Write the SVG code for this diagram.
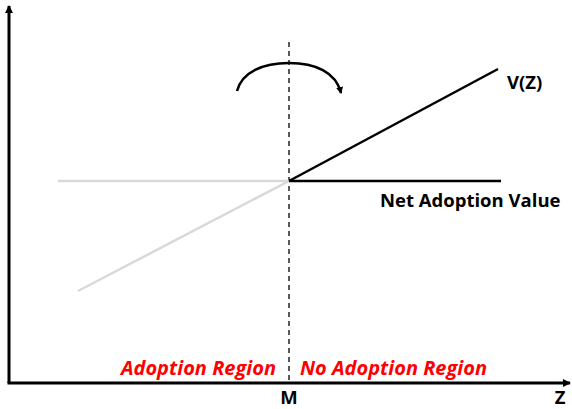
<svg xmlns="http://www.w3.org/2000/svg" width="572" height="409" viewBox="0 0 572 409">
  <defs>
    <marker id="arrowHead" markerWidth="8" markerHeight="8" refX="7" refY="4" orient="auto" markerUnits="userSpaceOnUse">
      <path d="M0,0 L8,4 L0,8 Z" fill="#000"/>
    </marker>
    <marker id="smallHead" markerWidth="8" markerHeight="8" refX="6" refY="4" orient="auto" markerUnits="userSpaceOnUse">
      <path d="M0,0.5 L7,4 L0,7.5 Z" fill="#000"/>
    </marker>
  </defs>
  <style>
    .axis { stroke: #000; stroke-width: 3; fill: none; }
    .curve { stroke: #000; stroke-width: 2.5; fill: none; }
    .faded { stroke: #d9d9d9; stroke-width: 2.5; fill: none; }
    .divider { stroke: #000; stroke-width: 1.3; stroke-dasharray: 5 4; fill: none; }
    .label { font-family: "Open Sans", "Liberation Sans", sans-serif; font-weight: bold; font-size: 18.5px; fill: #000; }
    .region { font-family: "Open Sans", "Liberation Sans", sans-serif; font-weight: bold; font-style: italic; font-size: 20px; fill: #ff0000; }
  </style>

  <g id="connectors">
    <!-- axes -->
    <line class="axis" x1="9" y1="383" x2="9" y2="6" marker-end="url(#arrowHead)"/>
    <line class="axis" x1="7.5" y1="383" x2="570" y2="383" marker-end="url(#arrowHead)"/>
    <!-- threshold M -->
    <line class="divider" x1="289" y1="42" x2="289" y2="383"/>
    <!-- faded lines left of M -->
    <line class="faded" x1="58" y1="181" x2="289" y2="181"/>
    <line class="faded" x1="78" y1="291" x2="289" y2="181"/>
    <!-- lines right of M -->
    <line class="curve" x1="289" y1="181" x2="498" y2="69"/>
    <line class="curve" x1="289" y1="181" x2="501" y2="181"/>
    <!-- rotation arrow -->
    <path class="curve" d="M237,91 C242,72 263,63 289,63 C315,63 336,72 341,93" stroke-width="2" marker-end="url(#smallHead)"/>
  </g>

  <g id="node-vz">
    <text class="label" x="507" y="89">V(Z)</text>
  </g>
  <g id="node-net-adoption">
    <text class="label" x="380" y="207">Net Adoption Value</text>
  </g>
  <g id="node-regions">
    <text class="region" x="276" y="375" text-anchor="end">Adoption Region</text>
    <text class="region" x="300" y="375">No Adoption Region</text>
  </g>
  <g id="node-m">
    <text class="label" x="289" y="404" text-anchor="middle">M</text>
  </g>
  <g id="node-z">
    <text class="label" x="560" y="404" text-anchor="middle">Z</text>
  </g>
</svg>
